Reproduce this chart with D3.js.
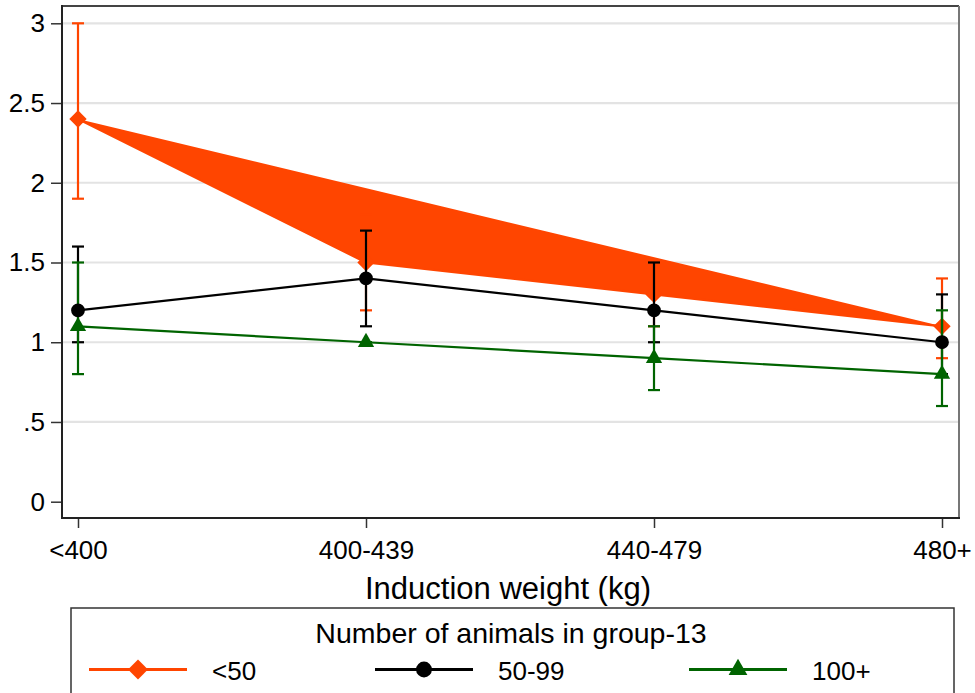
<!DOCTYPE html>
<html>
<head>
<meta charset="utf-8">
<script src="https://cdn.jsdelivr.net/npm/d3@7"></script>
<style>
  html, body { margin: 0; padding: 0; background: #fff; }
  svg { display: block; font-family: "Liberation Sans", Arial, Helvetica, sans-serif; }
</style>
</head>
<body>
<svg id="chart" width="975" height="693"></svg>
<script>
// Induction weight groups on the x axis
const categories = ["<400", "400-439", "440-479", "480+"];

// Group size "<50": means and interval bounds
const meanLt50 = [2.4, 1.5, 1.3, 1.1];
const lowLt50  = [1.9, 1.2, 1.1, 0.9];
const highLt50 = [3.0, 1.8, 1.5, 1.4];

// Group size "50-99"
const mean50to99 = [1.2, 1.4, 1.2, 1.0];
const low50to99  = [1.0, 1.1, 1.0, 0.8];
const high50to99 = [1.6, 1.7, 1.5, 1.3];

// Group size "100+"
const mean100plus = [1.1, 1.0, 0.9, 0.8];
const low100plus  = [0.8, 1.0, 0.7, 0.6];
const high100plus = [1.5, 1.0, 1.1, 1.2];

const seriesLabels = ["<50", "50-99", "100+"];
const yTicks = [0, 0.5, 1, 1.5, 2, 2.5, 3];
const yTickLabels = ["0", ".5", "1", "1.5", "2", "2.5", "3"];
const xTitle = "Induction weight (kg)";
const legendTitle = "Number of animals in group-13";

const ORANGE = "#ff4500", BLACK = "#000000", GREEN = "#006400";

const series = [
  { name: seriesLabels[0], mean: meanLt50,    low: lowLt50,    high: highLt50,    color: ORANGE, symbol: "diamond", filled: true },
  { name: seriesLabels[1], mean: mean50to99,  low: low50to99,  high: high50to99,  color: BLACK,  symbol: "circle" },
  { name: seriesLabels[2], mean: mean100plus, low: low100plus, high: high100plus, color: GREEN,  symbol: "triangle" }
];

const svg = d3.select("#chart");
const frame = { left: 62, right: 959, top: 6, bottom: 518 };

const x = d3.scaleLinear().domain([0, categories.length - 1]).range([78, 942]);
const y = d3.scaleLinear().domain([0, 3]).range([501.7, 23.3]);

function symbolPath(kind, scale) {
  const k = scale || 1;
  if (kind === "diamond") return d3.symbol().type(d3.symbolSquare).size(150 * k * k)();
  if (kind === "circle") return d3.symbol().type(d3.symbolCircle).size(150 * k * k)();
  return d3.symbol().type(d3.symbolTriangle).size(115 * k * k)();
}
function symbolTransform(kind, px, py) {
  return kind === "diamond" ? `translate(${px},${py}) rotate(45)` : `translate(${px},${py})`;
}

// Horizontal grid lines
svg.append("g")
  .selectAll("line")
  .data(yTicks.filter(d => d > 0))
  .join("line")
  .attr("x1", frame.left).attr("x2", frame.right)
  .attr("y1", d => y(d)).attr("y2", d => y(d))
  .attr("stroke", "#e3e3e3").attr("stroke-width", 2.2);

// Y axis
const yAxis = svg.append("g")
  .attr("transform", `translate(${frame.left},0)`)
  .call(d3.axisLeft(y).tickValues(yTicks).tickFormat((d, i) => yTickLabels[i]).tickSize(11).tickPadding(6));
yAxis.select(".domain").remove();
yAxis.selectAll(".tick line").attr("stroke", "#333").attr("stroke-width", 1.5);
yAxis.selectAll(".tick text").attr("font-size", 26).attr("fill", "#000")
  .attr("font-family", "Liberation Sans, Arial, sans-serif");

// X axis
const xAxis = svg.append("g")
  .attr("transform", `translate(0,${frame.bottom})`)
  .call(d3.axisBottom(x).tickValues(d3.range(categories.length)).tickFormat(i => categories[i]).tickSize(10).tickPadding(13));
xAxis.select(".domain").remove();
xAxis.selectAll(".tick line").attr("stroke", "#333").attr("stroke-width", 1.5);
xAxis.selectAll(".tick text").attr("font-size", 26).attr("fill", "#000")
  .attr("font-family", "Liberation Sans, Arial, sans-serif");

const line = d3.line().x((d, i) => x(i)).y(d => y(d));

function drawConnected(s) {
  const g = svg.append("g");
  g.append("path")
    .datum(s.mean)
    .attr("d", line)
    .attr("fill", s.filled ? s.color : "none")
    .attr("stroke", s.color)
    .attr("stroke-width", 2.2)
    .attr("stroke-linejoin", "round");
  g.selectAll("path.marker")
    .data(s.mean)
    .join("path")
    .attr("class", "marker")
    .attr("d", symbolPath(s.symbol))
    .attr("transform", (d, i) => symbolTransform(s.symbol, x(i), y(d)))
    .attr("fill", s.color);
}

function drawCaps(s) {
  const g = svg.append("g").attr("stroke", s.color).attr("stroke-width", 2.2);
  const idx = d3.range(categories.length);
  g.selectAll("line.v").data(idx).join("line").attr("class", "v")
    .attr("x1", i => x(i)).attr("x2", i => x(i))
    .attr("y1", i => y(s.low[i])).attr("y2", i => y(s.high[i]));
  g.selectAll("line.lo").data(idx).join("line").attr("class", "lo")
    .attr("x1", i => x(i) - 6).attr("x2", i => x(i) + 6)
    .attr("y1", i => y(s.low[i])).attr("y2", i => y(s.low[i]));
  g.selectAll("line.hi").data(idx).join("line").attr("class", "hi")
    .attr("x1", i => x(i) - 6).attr("x2", i => x(i) + 6)
    .attr("y1", i => y(s.high[i])).attr("y2", i => y(s.high[i]));
}

// Layering: first connected series, then all interval caps, then the other two series
drawConnected(series[0]);
series.forEach(drawCaps);
drawConnected(series[1]);
drawConnected(series[2]);

// Plot frame
svg.append("line").attr("x1", frame.left).attr("x2", frame.right).attr("y1", frame.top).attr("y2", frame.top)
  .attr("stroke", "#444").attr("stroke-width", 2);
svg.append("line").attr("x1", frame.right).attr("x2", frame.right).attr("y1", frame.top).attr("y2", frame.bottom)
  .attr("stroke", "#777").attr("stroke-width", 2);
svg.append("line").attr("x1", frame.left).attr("x2", frame.left).attr("y1", frame.top - 1).attr("y2", frame.bottom + 1)
  .attr("stroke", "#222").attr("stroke-width", 2);
svg.append("line").attr("x1", frame.left - 1).attr("x2", frame.right + 1).attr("y1", frame.bottom).attr("y2", frame.bottom)
  .attr("stroke", "#222").attr("stroke-width", 2);

// Axis title
svg.append("text")
  .attr("x", 508).attr("y", 599)
  .attr("text-anchor", "middle")
  .attr("font-size", 31)
  .text(xTitle);

// Legend
const legend = svg.append("g");
legend.append("rect")
  .attr("x", 71).attr("y", 608).attr("width", 883).attr("height", 120)
  .attr("fill", "#fff").attr("stroke", "#333").attr("stroke-width", 1.5);
legend.append("text")
  .attr("x", 511).attr("y", 643)
  .attr("text-anchor", "middle")
  .attr("font-size", 28.5)
  .text(legendTitle);

const legendX = [89, 375, 689];
series.forEach((s, k) => {
  const g = legend.append("g").attr("transform", `translate(${legendX[k]},669.5)`);
  g.append("line").attr("x1", 0).attr("x2", 98).attr("y1", 0).attr("y2", 0)
    .attr("stroke", s.color).attr("stroke-width", 2.8);
  g.append("path")
    .attr("d", symbolPath(s.symbol, 1.15))
    .attr("transform", symbolTransform(s.symbol, 49, 0))
    .attr("fill", s.color);
  g.append("text")
    .attr("x", 123).attr("y", 10.5)
    .attr("font-size", 26)
    .text(s.name);
});
</script>
</body>
</html>
